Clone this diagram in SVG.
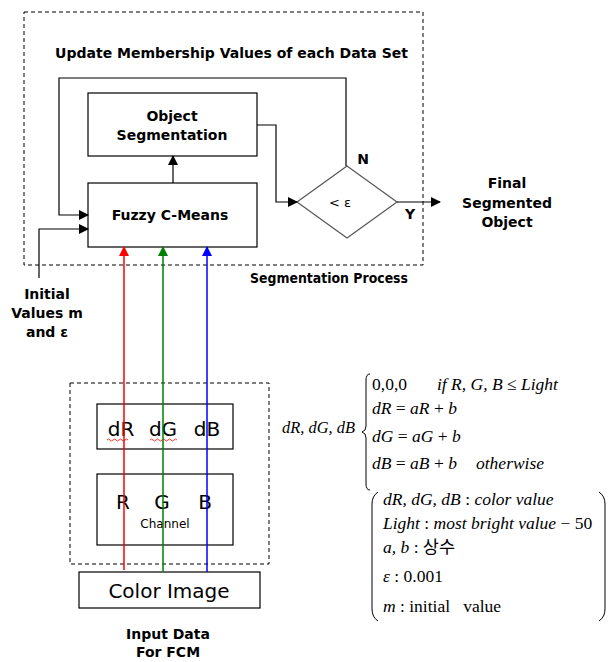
<svg xmlns="http://www.w3.org/2000/svg" width="610" height="662" viewBox="0 0 610 662">
  <defs>
    <marker id="arrow" viewBox="0 0 10 10" refX="9" refY="5" markerWidth="10" markerHeight="10" markerUnits="userSpaceOnUse" orient="auto">
      <path d="M0,0 L10,5 L0,10 z" fill="#000"/>
    </marker>
    <marker id="arrowR" viewBox="0 0 10 10" refX="9" refY="5" markerWidth="10" markerHeight="10" markerUnits="userSpaceOnUse" orient="auto">
      <path d="M0,0 L10,5 L0,10 z" fill="#ff0000"/>
    </marker>
    <marker id="arrowG" viewBox="0 0 10 10" refX="9" refY="5" markerWidth="10" markerHeight="10" markerUnits="userSpaceOnUse" orient="auto">
      <path d="M0,0 L10,5 L0,10 z" fill="#008000"/>
    </marker>
    <marker id="arrowB" viewBox="0 0 10 10" refX="9" refY="5" markerWidth="10" markerHeight="10" markerUnits="userSpaceOnUse" orient="auto">
      <path d="M0,0 L10,5 L0,10 z" fill="#0000ff"/>
    </marker>
  </defs>
  <style>
    .box { fill: #fff; stroke: #000; stroke-width: 1.2; }
    .dash { fill: none; stroke: #000; stroke-width: 1; stroke-dasharray: 4 3; }
    .line { fill: none; stroke: #000; stroke-width: 1.2; }
    .lbl { font-family: "DejaVu Sans", Verdana, sans-serif; font-weight: bold; font-size: 14px; fill: #000; }
    .big { font-family: "DejaVu Sans", Tahoma, sans-serif; font-size: 20px; fill: #000; }
    .math { font-family: "Liberation Serif", "Noto Sans CJK KR", serif; font-style: italic; font-size: 17.5px; fill: #000; white-space: pre; }
    .up { font-style: normal; }
  </style>

  <rect width="610" height="662" fill="#fff"/>

  <!-- segmentation process frame -->
  <rect class="dash" x="24" y="12" width="399" height="253"/>
  <text class="lbl" x="55" y="58" textLength="353" lengthAdjust="spacingAndGlyphs">Update Membership Values of each Data Set</text>
  <text class="lbl" x="250" y="283" textLength="158" lengthAdjust="spacingAndGlyphs">Segmentation Process</text>

  <!-- preprocessing frame -->
  <rect class="dash" x="70" y="383" width="199" height="181"/>

  <g id="object-segmentation">
    <rect class="box" x="88" y="93" width="169" height="63"/>
    <text class="lbl" x="172" y="121" text-anchor="middle">Object</text>
    <text class="lbl" x="172" y="140" text-anchor="middle">Segmentation</text>
  </g>

  <g id="fuzzy-c-means">
    <rect class="box" x="88" y="183" width="169" height="64"/>
    <text class="lbl" x="170" y="220" text-anchor="middle">Fuzzy C-Means</text>
  </g>

  <g id="threshold">
    <polygon points="297,202 347,166 397,202 347,238" fill="#fff" stroke="#555" stroke-width="1.2"/>
    <text x="340" y="207" text-anchor="middle" font-family="DejaVu Sans, sans-serif" font-size="13">&lt; ε</text>
    <text class="lbl" x="363" y="164" text-anchor="middle">N</text>
    <text class="lbl" x="410" y="219" text-anchor="middle">Y</text>
  </g>

  <g id="final-object">
    <text class="lbl" x="507" y="188" text-anchor="middle">Final</text>
    <text class="lbl" x="507" y="208" text-anchor="middle">Segmented</text>
    <text class="lbl" x="507" y="227" text-anchor="middle">Object</text>
  </g>

  <g id="initial-values">
    <text class="lbl" x="47" y="299" text-anchor="middle">Initial</text>
    <text class="lbl" x="47" y="318" text-anchor="middle">Values m</text>
    <text class="lbl" x="47" y="337" text-anchor="middle">and ε</text>
  </g>

  <g id="d-channels">
    <rect class="box" x="97" y="404" width="136" height="45"/>
    <text class="big" x="121" y="436" text-anchor="middle">dR</text>
    <text class="big" x="163" y="436" text-anchor="middle">dG</text>
    <text class="big" x="207" y="436" text-anchor="middle">dB</text>
    <path d="M107,440 q1.5,-2 3,0 t3,0 t3,0 t3,0 t3,0 t3,0 t3,0" fill="none" stroke="#ff0000" stroke-width="0.8"/>
    <path d="M150,440 q1.5,-2 3,0 t3,0 t3,0 t3,0 t3,0 t3,0 t3,0 t3,0 t3,0" fill="none" stroke="#ff0000" stroke-width="0.8"/>
  </g>

  <g id="rgb-channels">
    <rect class="box" x="97" y="474" width="136" height="71"/>
    <text class="big" x="123" y="509" text-anchor="middle">R</text>
    <text class="big" x="162" y="509" text-anchor="middle">G</text>
    <text class="big" x="205" y="509" text-anchor="middle">B</text>
    <text x="165" y="528" text-anchor="middle" font-family="DejaVu Sans, sans-serif" font-size="12" fill="#000">Channel</text>
  </g>

  <g id="color-image">
    <rect class="box" x="79" y="572" width="181" height="36"/>
    <text class="big" x="169" y="598" text-anchor="middle">Color Image</text>
  </g>

  <g id="input-data">
    <text class="lbl" x="168" y="639" text-anchor="middle">Input Data</text>
    <text class="lbl" x="168" y="657" text-anchor="middle">For FCM</text>
  </g>

  <g id="connectors">
    <!-- feedback loop -->
    <polyline class="line" points="346,166 346,78 59,78 59,215 88,215" marker-end="url(#arrow)"/>
    <!-- initial values -->
    <polyline class="line" points="39,278 39,229 88,229" marker-end="url(#arrow)"/>
    <!-- FCM to segmentation -->
    <line class="line" x1="173" y1="183" x2="173" y2="156" marker-end="url(#arrow)"/>
    <!-- segmentation to threshold -->
    <polyline class="line" points="257,125 276,125 276,202 297,202" marker-end="url(#arrow)"/>
    <!-- threshold to output -->
    <line class="line" x1="397" y1="202" x2="440" y2="202" marker-end="url(#arrow)"/>
    <!-- colour channels -->
    <line x1="124" y1="570" x2="124" y2="247" stroke="#ff0000" stroke-width="1.5" marker-end="url(#arrowR)"/>
    <line x1="163" y1="572" x2="163" y2="247" stroke="#008000" stroke-width="1.5" marker-end="url(#arrowG)"/>
    <line x1="207" y1="572" x2="207" y2="247" stroke="#0000ff" stroke-width="1.5" marker-end="url(#arrowB)"/>
  </g>

  <g id="channel-formula">
    <text class="math" x="282" y="433" textLength="73" lengthAdjust="spacingAndGlyphs">dR, dG, dB</text>
    <path d="M370,374 q-4,0 -4,6 v46 q0,5 -4,6 q4,1 4,6 v46 q0,6 4,6" fill="none" stroke="#000" stroke-width="1"/>
    <text class="math" x="372" y="390"><tspan class="up">0,0,0</tspan></text>
    <text class="math" x="437" y="390">if R, G, B <tspan class="up">≤</tspan> Light</text>
    <text class="math" x="372" y="414">dR <tspan class="up">=</tspan> aR <tspan class="up">+</tspan> b</text>
    <text class="math" x="372" y="442">dG <tspan class="up">=</tspan> aG <tspan class="up">+</tspan> b</text>
    <text class="math" x="372" y="469">dB <tspan class="up">=</tspan> aB <tspan class="up">+</tspan> b</text>
    <text class="math" x="476" y="469">otherwise</text>
  </g>

  <g id="legend">
    <path d="M378,492 q-6,4 -6,12 v105 q0,8 6,12" fill="none" stroke="#000" stroke-width="1"/>
    <path d="M599,492 q6,4 6,12 v105 q0,8 -6,12" fill="none" stroke="#000" stroke-width="1"/>
    <text class="math" x="383" y="505">dR, dG, dB <tspan class="up">:</tspan> color value</text>
    <text class="math" x="383" y="529">Light <tspan class="up">:</tspan> most bright value <tspan class="up">− 50</tspan></text>
    <text class="math" x="383" y="553">a, b <tspan class="up">: 상수</tspan></text>
    <text class="math" x="383" y="582">ε <tspan class="up">: 0.001</tspan></text>
    <text class="math" x="383" y="612">m <tspan class="up">: initial   value</tspan></text>
  </g>
</svg>
